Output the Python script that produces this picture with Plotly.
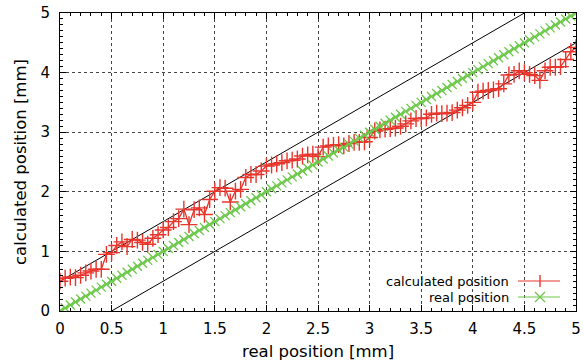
import plotly.graph_objects as go

real_x = [round(i * 0.05, 2) for i in range(101)]
real_y = list(real_x)

calc_y = [
    0.50, 0.55, 0.57, 0.56, 0.60, 0.64, 0.67, 0.70, 0.70, 0.95,
    0.98, 1.10, 1.16, 1.08, 1.20, 1.19, 1.15, 1.12, 1.22, 1.28,
    1.36, 1.40, 1.50, 1.55, 1.71, 1.45, 1.70, 1.73, 1.62, 1.87,
    2.01, 2.07, 2.06, 1.83, 2.01, 2.04, 2.24, 2.29, 2.29, 2.35,
    2.43, 2.45, 2.47, 2.49, 2.52, 2.53, 2.55, 2.60, 2.62, 2.63,
    2.59, 2.75, 2.77, 2.78, 2.79, 2.77, 2.81, 2.83, 2.83, 2.84,
    2.91, 3.02, 3.04, 3.05, 3.06, 3.07, 3.10, 3.14, 3.19, 3.23,
    3.23, 3.24, 3.30, 3.32, 3.31, 3.32, 3.33, 3.37, 3.41, 3.45,
    3.50, 3.67, 3.69, 3.70, 3.71, 3.73, 3.81, 3.96, 3.97, 4.03,
    4.00, 3.97, 3.95, 3.87, 4.03, 4.09, 4.09, 4.10, 4.22, 4.35,
    4.42,
]

upper_x = [0.0, 4.5]
upper_y = [0.5, 5.0]
lower_x = [0.5, 5.0]
lower_y = [0.0, 4.5]

x_ticks = [0, 0.5, 1, 1.5, 2, 2.5, 3, 3.5, 4, 4.5, 5]
x_tick_labels = ["0", "0.5", "1", "1.5", "2", "2.5", "3", "3.5", "4", "4.5", "5"]
y_ticks = [0, 1, 2, 3, 4, 5]
y_tick_labels = ["0", "1", "2", "3", "4", "5"]

RED = "#e8352c"
GREEN = "#6cc84a"
FONT = "DejaVu Sans"

fig = go.Figure()

fig.add_trace(go.Scatter(x=upper_x, y=upper_y, mode="lines",
                         line=dict(color="black", width=1), showlegend=False,
                         hoverinfo="skip"))
fig.add_trace(go.Scatter(x=lower_x, y=lower_y, mode="lines",
                         line=dict(color="black", width=1), showlegend=False,
                         hoverinfo="skip"))

fig.add_trace(go.Scatter(
    x=real_x, y=calc_y, mode="lines+markers", name="calculated position",
    line=dict(color=RED, width=1.3),
    marker=dict(symbol="cross-thin", size=12, line=dict(color=RED, width=1.4), color=RED),
    showlegend=False,
))
fig.add_trace(go.Scatter(
    x=real_x, y=real_y, mode="lines+markers", name="real position",
    line=dict(color=GREEN, width=1.2),
    marker=dict(symbol="x-thin", size=9, line=dict(color=GREEN, width=1.3), color=GREEN),
    showlegend=False,
))

PW = 516.0
PH = 298.0

# manual gnuplot-style legend (text then sample)
shapes = []
annotations = []
legend_rows = [("calculated position", RED, "plus", (311 - 281) / PH),
               ("real position", GREEN, "x", (311 - 297) / PH)]
for label, col, sym, ypos in legend_rows:
    annotations.append(dict(xref="paper", yref="paper", x=(511 - 60) / PW, y=ypos, text=label,
                            showarrow=False, xanchor="right", yanchor="middle",
                            font=dict(family=FONT, size=13, color="black")))
    shapes.append(dict(type="line", xref="paper", yref="paper", x0=(518 - 60) / PW, x1=(560 - 60) / PW,
                       y0=ypos, y1=ypos, line=dict(color=col, width=1.2)))
    cx = (540 - 60) / PW
    if sym == "plus":
        dy = 6 / PH
        shapes.append(dict(type="line", xref="paper", yref="paper", x0=cx, x1=cx,
                           y0=ypos - dy, y1=ypos + dy, line=dict(color=col, width=1.4)))
    else:
        dx2 = 5 / PW
        dy2 = 5 / PH
        shapes.append(dict(type="line", xref="paper", yref="paper", x0=cx - dx2, x1=cx + dx2,
                           y0=ypos - dy2, y1=ypos + dy2, line=dict(color=col, width=1.3)))
        shapes.append(dict(type="line", xref="paper", yref="paper", x0=cx - dx2, x1=cx + dx2,
                           y0=ypos + dy2, y1=ypos - dy2, line=dict(color=col, width=1.3)))

# axis titles
annotations.append(dict(xref="paper", yref="paper", x=0.5, y=-(351 - 311) / PH,
                        text="real position [mm]", showarrow=False,
                        xanchor="center", yanchor="middle",
                        font=dict(family=FONT, size=16.5, color="black")))
annotations.append(dict(xref="paper", yref="paper", x=-(60 - 20) / PW, y=0.5,
                        text="calculated position [mm]", showarrow=False, textangle=-90,
                        xanchor="center", yanchor="middle",
                        font=dict(family=FONT, size=16.5, color="black")))

axis_common = dict(
    showline=True, linecolor="black", linewidth=1, mirror="allticks",
    ticks="inside", ticklen=6, tickcolor="black", tickwidth=1,
    showgrid=True, gridcolor="#444444", griddash="dot", gridwidth=1,
    zeroline=False, automargin=False, ticklabeloverflow="allow",
    tickfont=dict(family=FONT, size=15, color="black"),
)

fig.update_xaxes(
    range=[0, 5], tickmode="array", tickvals=x_ticks, ticktext=x_tick_labels,
    minor=dict(ticks="inside", ticklen=3, dtick=0.1, tick0=0, tickcolor="black", showgrid=False),
    ticklabelstandoff=4,
    **axis_common,
)
fig.update_yaxes(
    range=[0, 5], tickmode="array", tickvals=y_ticks, ticktext=y_tick_labels,
    minor=dict(ticks="inside", ticklen=3, dtick=0.1, tick0=0, tickcolor="black", showgrid=False),
    ticklabelstandoff=6,
    **axis_common,
)

fig.update_layout(
    width=584, height=361,
    margin=dict(l=60, r=8, t=13, b=50),
    paper_bgcolor="white", plot_bgcolor="white",
    shapes=shapes, annotations=annotations,
    showlegend=False,
    font=dict(family=FONT),
)

fig.write_html("out.html", config={"displayModeBar": False},
               post_script="document.body.style.margin='0';document.body.style.overflow='hidden';")
